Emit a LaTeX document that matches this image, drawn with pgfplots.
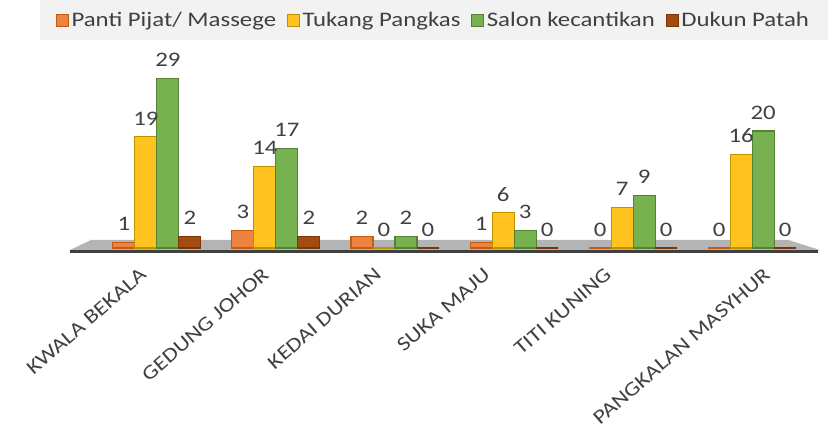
\documentclass[border=0pt]{standalone}
\usepackage{graphicx}
\usepackage{pgfplots}
\pgfplotsset{compat=1.18}
\usepackage{fontspec}
\setmainfont[FakeStretch=1.2]{Carlito}
\definecolor{cOr}{HTML}{EE8240}
\definecolor{cOrD}{HTML}{C55A11}
\definecolor{cYe}{HTML}{FFC320}
\definecolor{cYeD}{HTML}{BF9000}
\definecolor{cGr}{HTML}{78B150}
\definecolor{cGrD}{HTML}{548235}
\definecolor{cBr}{HTML}{A24C12}
\definecolor{cBrD}{HTML}{7A3509}
\definecolor{lbl}{HTML}{404040}
\definecolor{legbg}{HTML}{F2F2F2}
\definecolor{floor}{HTML}{B4B4B4}
\begin{document}
\begin{tikzpicture}
\useasboundingbox (-52.5pt,-135pt) rectangle (568.5pt,186pt);
\fill[legbg] (-22.5pt,156pt) rectangle (568.5pt,186pt);
\begin{axis}[
  at={(0pt,0pt)}, anchor=south west,
  scale only axis, width=562.5pt, height=131.6pt,
  xmin=-0.73, xmax=5.57, ymin=0, ymax=30,
  clip=false,
  /pgf/number format/assume math mode=true,
  axis line style={draw=none},
  ytick=\empty,
  xtick={0,1,2,3,4,5},
  xticklabels={\rotatebox{41}{KWALA BEKALA},\rotatebox{41}{GEDUNG JOHOR},\rotatebox{41}{KEDAI DURIAN},\rotatebox{41}{SUKA MAJU},\rotatebox{41}{TITI KUNING},\rotatebox{41}{PANGKALAN MASYHUR}},
  major tick length=0pt,
  xticklabel style={anchor=north, font=\fontsize{15}{15}\selectfont, text=lbl, xshift=-53pt, yshift=-14pt, inner sep=0pt},
  ybar=0pt, bar width=16.5pt,
  nodes near coords,
  every node near coord/.append style={font=\fontsize{15.5}{15.5}\selectfont, text=lbl, yshift=5pt},
  legend style={at={(0.485,1.299)}, anchor=center, draw=none, fill=none, legend columns=-1,
    font=\fontsize{15.5}{15.5}\selectfont, text=lbl,
    /tikz/every even column/.append style={column sep=6pt}},
  legend image code/.code={\draw[#1] (0pt,-4.5pt) rectangle (9pt,4.5pt);},
]
\fill[floor] (axis cs:-0.55,1.4) -- (axis cs:5.3,1.4) -- (axis cs:5.57,-0.35) -- (axis cs:-0.73,-0.35) -- cycle;
\draw[lbl, line width=2.25pt] (axis cs:-0.73,-0.55) -- (axis cs:5.55,-0.55);
\addplot[fill=cOr, draw=cOrD, line width=0.8pt] coordinates {(0,1) (1,3) (2,2) (3,1) (4,0) (5,0)};
\addplot[fill=cYe, draw=cYeD, line width=0.8pt] coordinates {(0,19) (1,14) (2,0) (3,6) (4,7) (5,16)};
\addplot[fill=cGr, draw=cGrD, line width=0.8pt] coordinates {(0,29) (1,17) (2,2) (3,3) (4,9) (5,20)};
\addplot[fill=cBr, draw=cBrD, line width=0.8pt] coordinates {(0,2) (1,2) (2,0) (3,0) (4,0) (5,0)};
\legend{Panti Pijat/ Massege, Tukang Pangkas, Salon kecantikan, Dukun Patah}
\end{axis}
\end{tikzpicture}
\end{document}
